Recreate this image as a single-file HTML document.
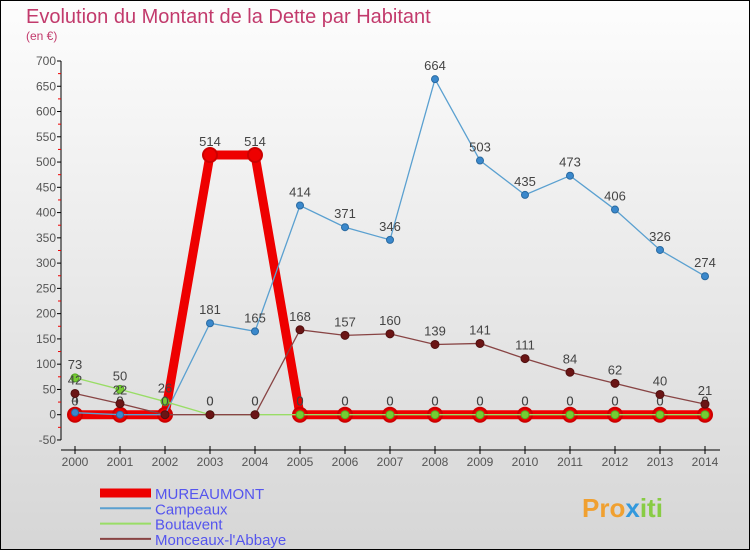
<!DOCTYPE html>
<html><head><meta charset="utf-8"><style>
body{margin:0}
svg{display:block;font-family:"Liberation Sans",sans-serif}
</style></head><body>
<svg id="c" width="750" height="550" xmlns="http://www.w3.org/2000/svg">
<defs><linearGradient id="bg" x1="0" y1="0" x2="0" y2="1"><stop offset="0" stop-color="#fdfdfd"/><stop offset="1" stop-color="#d6d6d6"/></linearGradient></defs>
<rect x="0.5" y="0.5" width="749" height="549" fill="url(#bg)" stroke="#000"/>
<text x="26" y="23" font-size="20" fill="#c23a6c">Evolution du Montant de la Dette par Habitant</text>
<text x="26" y="40" font-size="12" fill="#c23a6c">(en €)</text>
<g id="axes"></g><g id="series"></g><g id="legend"></g>
<text x="582" y="517" font-size="26" font-weight="bold" fill="#f0a030">Pro<tspan fill="#3399dd">x</tspan><tspan fill="#88cc44">iti</tspan></text>
</svg>
<script>
const years=[2000,2001,2002,2003,2004,2005,2006,2007,2008,2009,2010,2011,2012,2013,2014];
const yTicks=[-50,0,50,100,150,200,250,300,350,400,450,500,550,600,650,700];
const mureaumont=[0,0,0,514,514,0,0,0,0,0,0,0,0,0,0];
const campeaux=[4,0,0,181,165,414,371,346,664,503,435,473,406,326,274];
const boutavent=[73,50,26,0,0,0,0,0,0,0,0,0,0,0,0];
const monceaux=[42,22,0,0,0,168,157,160,139,141,111,84,62,40,21];
const NS="http://www.w3.org/2000/svg";
function X(i){return 75+i*45;}
function Y(v){return 414.7-v*0.5053;}
function mk(t,a,p){const e=document.createElementNS(NS,t);for(const k in a)e.setAttribute(k,a[k]);p.appendChild(e);return e;}
const ax=document.getElementById('axes');
let l=mk('line',{x1:61,y1:Y(700),x2:61,y2:Y(-50),stroke:'#000'},ax);


l=mk('line',{x1:61,y1:450,x2:720,y2:450,stroke:'#000'},ax);


yTicks.forEach(v=>{mk('line',{x1:57,x2:61,y1:Y(v),y2:Y(v),stroke:'#000'},ax);
 if(v<700)mk('line',{x1:58,x2:61,y1:Y(v+25),y2:Y(v+25),stroke:'#e00'},ax);
 const t=mk('text',{x:56,y:Y(v)+4,'font-size':12,'text-anchor':'end',fill:'#555'},ax);t.textContent=v;
 
 });
years.forEach((y,i)=>{mk('line',{x1:X(i),x2:X(i),y1:446,y2:454,stroke:'#000'},ax);
 const t=mk('text',{x:X(i),y:466,'font-size':12,'text-anchor':'middle',fill:'#555'},ax);t.textContent=y;
 
 });
const sg=document.getElementById('series');
function series(name,data,color,w,r,fill,stroke,sw){
 const g=mk('g',{},sg);
 
 
 const p=mk('polyline',{points:data.map((v,i)=>X(i)+','+Y(v)).join(' '),fill:'none',stroke:color,'stroke-width':w},g);
 
 
 data.forEach((v,i)=>{const c=mk('circle',{cx:X(i),cy:Y(v),r:r,fill:fill,stroke:stroke,'stroke-width':sw},g);
  
  
  const t=mk('text',{x:X(i),y:Y(v)-9,'font-size':13,'text-anchor':'middle',fill:'#444'},g);t.textContent=v;
  
  });
}
series('mureaumont',mureaumont,'#ee0000',9,7,'#ee0000','#cc0000',2);
series('campeaux',campeaux,'#5aa0d0',1.3,3.5,'#3a88cc','#2a6aa0',1);
series('boutavent',boutavent,'#99dd66',1.3,4,'#77cc33','#55aa22',1);
series('monceaux',monceaux,'#884444',1.3,4,'#6b1515','#501010',1);
const lg=document.getElementById('legend');
[['MUREAUMONT','#ee0000',9],['Campeaux','#5aa0d0',2],['Boutavent','#99dd66',2],['Monceaux-l\'Abbaye','#884444',2]].forEach((e,i)=>{
 const y=493+i*15.3;
 const s=mk('line',{x1:100,x2:151,y1:y,y2:y,stroke:e[1],'stroke-width':e[2]},lg);
 
 
 const t=mk('text',{x:155,y:y+6,'font-size':15,fill:'#5555ee'},lg);t.textContent=e[0];
 
 });
</script>
</body></html>
